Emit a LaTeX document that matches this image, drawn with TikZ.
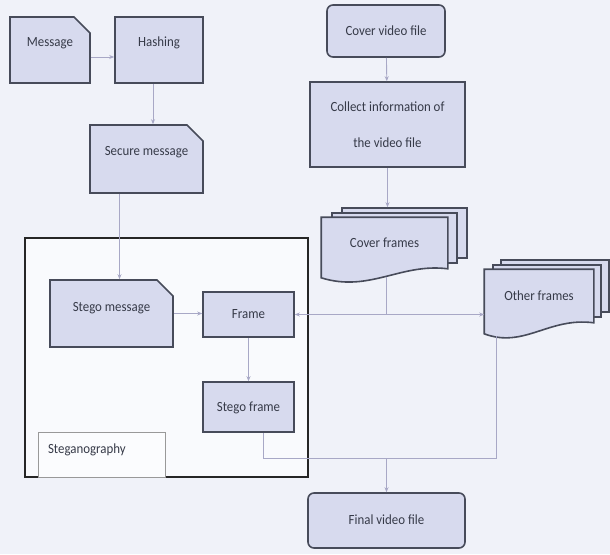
\documentclass[tikz,border=0pt]{standalone}
\usepackage{fontspec}
\setmainfont{Carlito}[FakeStretch=0.92]
\usetikzlibrary{shapes.misc,arrows.meta,calc,backgrounds}
\definecolor{bgc}{HTML}{F0F2F9}
\definecolor{boxfill}{HTML}{D7DAEE}
\definecolor{boxline}{HTML}{474B5A}
\definecolor{connc}{HTML}{A8A8C6}
\definecolor{txt}{HTML}{363A48}
\tikzset{
  base/.style={draw=boxline, line width=1.6pt, fill=boxfill, inner sep=0pt,
    font=\fontsize{14}{16}\selectfont, text=txt, text height=9pt, text depth=1pt},
  procbox/.style={base, rectangle},
  notebox/.style={base, chamfered rectangle, chamfered rectangle corners=north east,
    chamfered rectangle xsep=8pt, chamfered rectangle ysep=8pt},
  termbox/.style={base, rectangle, rounded corners=6pt},
  pagebox/.style={base, rectangle, minimum width=#1},
  docfront/.style={draw=boxline, line width=1.6pt, fill=boxfill},
  conn/.style={draw=connc, line width=0.9pt, -{Stealth[length=5pt,width=4pt]}},
  wire/.style={draw=connc, line width=0.9pt},
  raise/.style={text depth=#1},
}
\begin{document}
\begin{tikzpicture}[x=1pt,y=-1pt]
\useasboundingbox (0,0) rectangle (610,554);
\begin{scope}[on background layer]
  \fill[bgc] (0,0) rectangle (610,554);
\end{scope}

% steganography block
\node[draw=black!85, line width=2pt, fill=white!60!bgc, minimum width=283pt, minimum height=239pt, inner sep=0pt]
  (stegblock) at (166.5,357.5) {};
\node[draw=black!40, line width=0.7pt, fill=white!75!bgc, minimum width=127pt, minimum height=45pt,
  inner xsep=10pt, text width=107pt, align=left, font=\fontsize{14}{16}\selectfont, text=txt,
  text height=9pt, text depth=11pt] (steglabel) at (101.5,454.5) {Steganography};

% message side
\node[notebox, minimum width=80pt, minimum height=66pt, raise=16pt] (msg) at (50,50) {Message};
\node[procbox, minimum width=88pt, minimum height=66pt, raise=16pt] (hash) at (159,50) {Hashing};
\node[notebox, minimum width=113pt, minimum height=68pt, raise=16pt] (secure) at (146.5,159) {Secure message};
\node[notebox, minimum width=123pt, minimum height=67pt, raise=13pt] (stegmsg) at (111.5,313.5) {Stego message};
\node[procbox, minimum width=91pt, minimum height=45pt] (frame) at (248.5,314.5) {Frame};
\node[procbox, minimum width=91pt, minimum height=50pt] (sframe) at (248.5,407) {Stego frame};

% video side
\node[termbox, minimum width=118pt, minimum height=52pt] (cvf) at (386,31) {Cover video file};
\node[procbox, minimum width=155pt, minimum height=85pt, align=center, text height=, text depth=]
  (coll) at (387.5,124.5) {Collect information of\\[20pt] the video file};

% stacked cover frames: back pages, then the wavy front page under its label
\node[base, draw=none, fill=none, minimum width=125pt, minimum height=50pt] (cf) at (384.5,243) {Cover frames};
\begin{scope}[on background layer]
  \node[pagebox=125pt, minimum height=50pt] (cf2) at (404.5,233) {};
  \node[pagebox=125pt, minimum height=50pt] (cf1) at (394.5,238) {};
  \path[docfront] (cf.north west) -- (cf.north east) -- (cf.south east)
    .. controls ($(cf.south east)+(-47,-6)$) and ($(cf.south west)+(48,24)$) .. ($(cf.south west)+(0,9)$) -- cycle;
\end{scope}
\coordinate (cfb) at ($(cf.south)+(2,8)$);

% stacked other frames
\node[base, draw=none, fill=none, minimum width=108pt, minimum height=52pt] (of) at (539,296) {Other frames};
\begin{scope}[on background layer]
  \node[pagebox=108pt, minimum height=52pt] (of2) at (555,286) {};
  \node[pagebox=108pt, minimum height=52pt] (of1) at (547,291) {};
  \path[docfront] (of.north west) -- (of.north east) -- (of.south east)
    .. controls ($(of.south east)+(-45,-6)$) and ($(of.south west)+(40,26)$) .. ($(of.south west)+(0,11)$) -- cycle;
\end{scope}
\coordinate (ofb) at ($(of.south west)+(12,13)$);

\node[termbox, minimum width=157pt, minimum height=55pt] (final) at (386.5,520.5) {Final video file};

% connectors
\draw[conn] ([yshift=-7pt]msg.east) -- ([yshift=-7pt]hash.west);
\draw[conn] ([xshift=-6pt]hash.south) -- ([xshift=-6pt]hash.south |- secure.north);
\draw[conn] ([xshift=-27pt]secure.south) -- ([xshift=-27pt]secure.south |- stegmsg.north);
\draw[conn] (stegmsg.east) -- (stegmsg.east -| frame.west);
\draw[conn] (frame) -- (sframe);
\draw[conn] (cvf) -- (coll);
\draw[conn] (coll.south) -- (coll.south |- cf2.north);

\coordinate (j1) at (cfb |- frame.east);
\draw[wire] (cfb) -- (j1);
\draw[conn] (j1) -- (frame.east);
\draw[conn] (j1) -- (j1 -| of.west);

\coordinate (j2) at ($(final.north)+(0,-34)$);
\draw[wire] ([xshift=14.5pt]sframe.south) |- (j2) -| (ofb);
\draw[conn] (j2) -- (final.north);
\end{tikzpicture}
\end{document}
